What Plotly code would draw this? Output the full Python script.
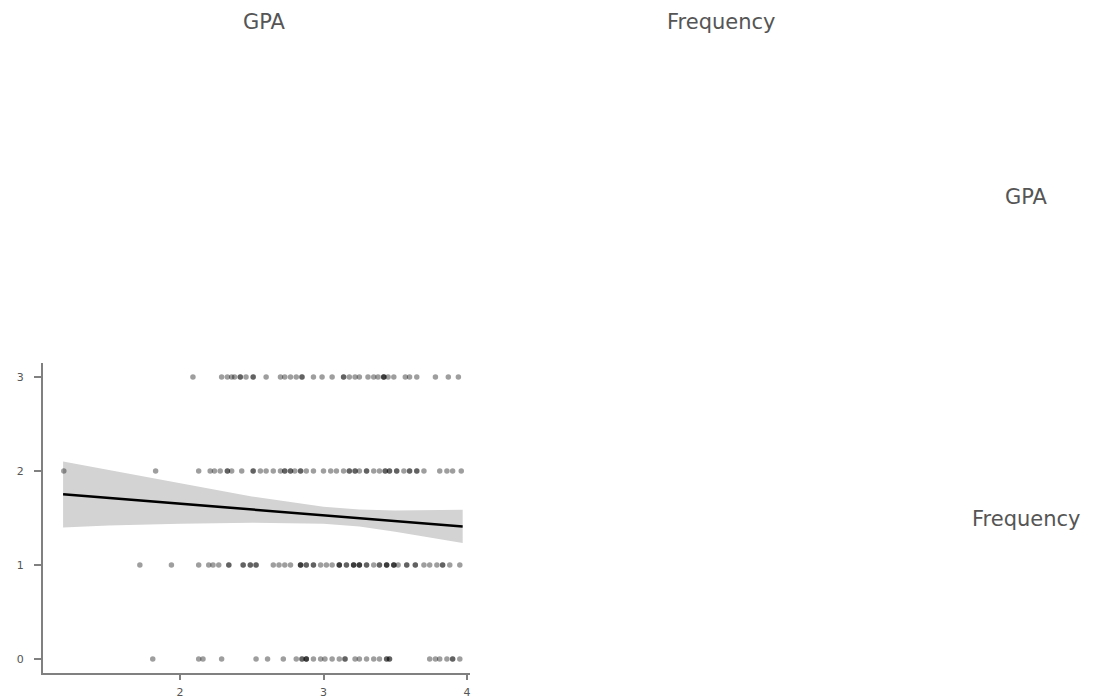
import plotly.graph_objects as go

# ---------------- data ----------------
gpa_freq0 = [1.81, 2.13, 2.16, 2.29, 2.53, 2.61, 2.72, 2.81, 2.85, 2.85, 2.88, 2.88, 2.88,
             2.93, 2.98, 3.01, 3.06, 3.11, 3.15, 3.15, 3.22, 3.25, 3.30, 3.35, 3.39,
             3.44, 3.44, 3.46, 3.46, 3.74, 3.78, 3.81, 3.86, 3.90, 3.90, 3.95]
gpa_freq1 = [1.72, 1.94, 2.13, 2.20, 2.23, 2.27, 2.34, 2.34, 2.44, 2.44, 2.49, 2.49, 2.53, 2.53,
             2.65, 2.69, 2.73, 2.77, 2.84, 2.84, 2.84, 2.88, 2.88, 2.93, 2.93, 2.98, 3.02,
             3.06, 3.11, 3.11, 3.11, 3.16, 3.16, 3.21, 3.21, 3.21, 3.25, 3.25, 3.25, 3.30,
             3.30, 3.35, 3.39, 3.39, 3.44, 3.44, 3.44, 3.49, 3.49, 3.49, 3.52, 3.58, 3.58,
             3.64, 3.64, 3.70, 3.74, 3.79, 3.83, 3.83, 3.88, 3.95]
gpa_freq2 = [1.19, 1.83, 2.13, 2.21, 2.24, 2.28, 2.33, 2.33, 2.36, 2.43, 2.51, 2.51, 2.56, 2.60,
             2.65, 2.70, 2.73, 2.73, 2.77, 2.77, 2.80, 2.84, 2.84, 2.88, 2.93, 3.00, 3.05,
             3.09, 3.14, 3.18, 3.18, 3.22, 3.22, 3.25, 3.30, 3.30, 3.35, 3.39, 3.43, 3.43,
             3.46, 3.46, 3.51, 3.51, 3.56, 3.60, 3.60, 3.65, 3.65, 3.70, 3.81, 3.86, 3.90, 3.96]
gpa_freq3 = [2.09, 2.29, 2.33, 2.36, 2.38, 2.42, 2.42, 2.46, 2.51, 2.51, 2.60, 2.70, 2.73, 2.77,
             2.81, 2.85, 2.85, 2.93, 2.99, 3.06, 3.14, 3.14, 3.18, 3.22, 3.25, 3.31, 3.35,
             3.38, 3.42, 3.42, 3.42, 3.45, 3.49, 3.57, 3.60, 3.65, 3.78, 3.87, 3.94]
freq_levels = [0, 1, 2, 3]

# fitted regression line and 95% band, read at several GPA positions
fit_gpa = [1.185, 1.5, 2.0, 2.5, 3.0, 3.25, 3.5, 3.97]
fit_mid = [1.752, 1.713, 1.652, 1.591, 1.529, 1.498, 1.468, 1.410]
fit_low = [1.40, 1.42, 1.44, 1.45, 1.44, 1.41, 1.355, 1.233]
fit_high = [2.10, 2.01, 1.865, 1.73, 1.62, 1.59, 1.58, 1.587]

var_names = ["GPA", "Frequency"]
x_ticks = [2, 3, 4]
y_ticks = [0, 1, 2, 3]

# ---------------- build ----------------
OFF = 8          # body margin of the page
W, H = 1103 - 2 * OFF, 699 - OFF   # figure reaches the bottom edge of the window


def px_x(p):
    return (p - OFF) / W


def px_y(p):
    return 1 - (p - OFF) / H


xs, ys = [], []
for lvl, arr in zip(freq_levels, [gpa_freq0, gpa_freq1, gpa_freq2, gpa_freq3]):
    xs += arr
    ys += [lvl] * len(arr)

fig = go.Figure()
fig.add_trace(go.Scatter(
    x=fit_gpa + fit_gpa[::-1], y=fit_high + fit_low[::-1],
    fill="toself", fillcolor="#d3d3d3", line=dict(width=0),
    mode="lines", hoverinfo="skip", showlegend=False))
fig.add_trace(go.Scatter(
    x=xs, y=ys, mode="markers",
    marker=dict(size=5.5, color="rgba(0,0,0,0.38)", line=dict(width=0)),
    showlegend=False))
fig.add_trace(go.Scatter(
    x=fit_gpa, y=fit_mid, mode="lines",
    line=dict(color="black", width=2.5), showlegend=False))

axcol = "#808080"
tick_font = dict(family="DejaVu Sans", size=11, color="#555555")
fig.update_layout(
    width=W, height=H,
    margin=dict(l=0, r=0, t=0, b=0),
    paper_bgcolor="white", plot_bgcolor="white",
    font=dict(family="DejaVu Sans", color="#555555"),
    xaxis=dict(domain=[px_x(43), px_x(470)], range=[1.045, 4.021],
               tickvals=x_ticks, ticks="outside", ticklen=5, tickwidth=2,
               tickcolor=axcol, showline=True, linecolor=axcol, linewidth=2,
               showgrid=False, zeroline=False, tickfont=tick_font,
               ticklabelstandoff=3, automargin=False),
    yaxis=dict(domain=[px_y(673), px_y(363)], range=[-0.149, 3.149],
               tickvals=y_ticks, ticks="outside", ticklen=7, tickwidth=2,
               tickcolor=axcol, showline=True, linecolor=axcol, linewidth=2,
               showgrid=False, zeroline=False, tickfont=tick_font,
               ticklabelstandoff=8, automargin=False),
)

lab_font = dict(family="DejaVu Sans", size=21, color="#555555")
ann = [
    (264, 22, var_names[0]),
    (721, 22, var_names[1]),
    (1026, 197, var_names[0]),
    (1026, 519, var_names[1]),
]
for px, py, t in ann:
    fig.add_annotation(x=px_x(px), y=px_y(py), xref="paper", yref="paper",
                       text=t, showarrow=False, font=lab_font,
                       xanchor="center", yanchor="middle")

fig.write_html("out.html")
